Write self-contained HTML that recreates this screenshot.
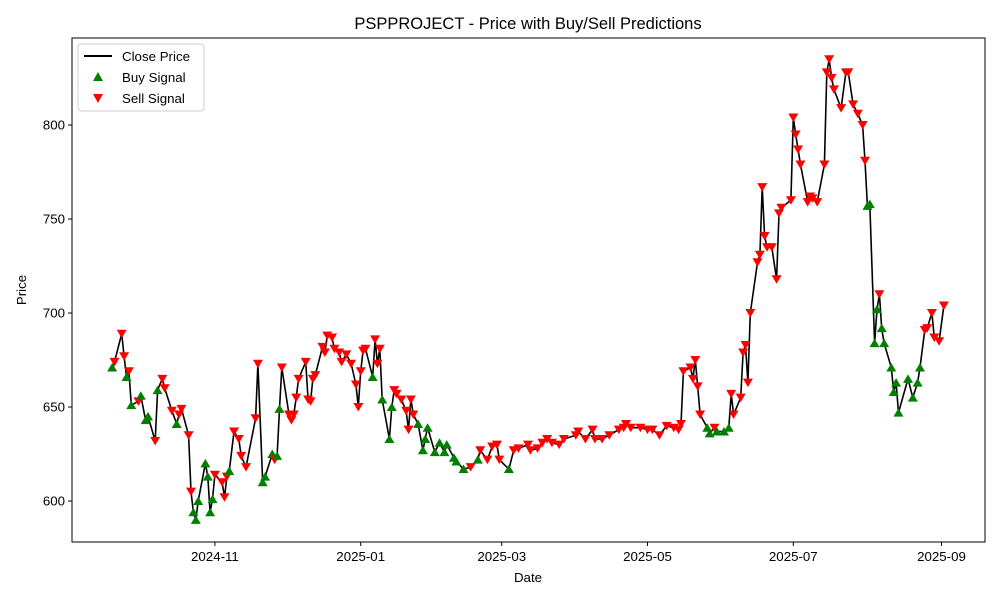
<!DOCTYPE html>
<html><head><meta charset="utf-8"><style>
html,body{margin:0;padding:0;background:#fff;}
svg{display:block;font-family:"Liberation Sans","DejaVu Sans",sans-serif;}
</style></head><body>
<svg id="chart" width="1000" height="600" viewBox="0 0 1000 600">
<rect width="1000" height="600" fill="#fff"/>
<text x="528" y="29" text-anchor="middle" font-size="16.5" fill="#000">PSPPROJECT - Price with Buy/Sell Predictions</text>
<g id="plot"></g>
<rect x="72" y="38" width="913" height="504" fill="none" stroke="#000" stroke-width="1"/>
<text x="528" y="582" text-anchor="middle" font-size="13.3">Date</text>
<text x="0" y="0" transform="translate(26,290) rotate(-90)" text-anchor="middle" font-size="13.3">Price</text>
<g>
<rect x="78" y="44" width="126" height="67" rx="3" fill="#fff" fill-opacity="0.8" stroke="#ccc"/>
<line x1="84" y1="56" x2="112" y2="56" stroke="#000" stroke-width="2"/>
<text x="122" y="61" font-size="13.3">Close Price</text>
<path d="M98,72 L103,81 L93,81 Z" fill="green"/>
<text x="122" y="82" font-size="13.3">Buy Signal</text>
<path d="M93,94 L103,94 L98,103 Z" fill="red"/>
<text x="122" y="103" font-size="13.3">Sell Signal</text>
</g>
</svg>
<script>
// days since 2024-11-01
const dayOffsets=[-43,-42,-39,-38,-37,-36,-35,-32,-31,-29,-28,-25,-24,-22,-21,-18,-16,-15,-14,-11,-10,-9,-8,-7,-4,-3,-2,-1,0,3,4,5,6,8,10,11,13,17,18,20,21,24,25,26,27,28,31,32,33,34,35,38,39,40,41,42,45,46,47,49,50,52,53,55,57,59,60,61,62,63,66,67,68,69,70,73,74,75,76,78,80,81,82,83,85,87,88,89,92,94,96,97,100,101,104,107,110,111,114,116,118,119,123,125,127,131,132,135,137,139,141,144,146,151,152,155,158,159,162,165,169,171,172,174,178,181,183,186,189,192,194,195,196,199,200,201,202,203,206,207,209,210,213,215,216,217,220,221,222,223,224,227,228,229,230,231,233,235,236,237,241,242,243,244,245,248,249,250,252,255,256,257,258,259,262,264,265,267,269,271,272,273,274,276,277,278,279,280,283,284,285,286,290,292,294,295,297,298,300,301,303,305];
const closePrices=[671,674,689,677,666,669,651,653,656,643,645,632,659,665,660,648,641,646,649,635,605,594,590,600,620,613,594,601,614,610,602,613,616,637,633,624,618,644,673,610,613,625,622,624,649,671,646,643,646,655,665,674,654,653,665,667,682,679,688,687,681,679,674,678,673,662,650,669,680,681,666,686,673,681,654,633,650,659,657,654,648,638,654,646,641,627,633,639,626,631,626,630,623,621,617,618,622,627,622,629,630,622,617,627,628,630,627,628,631,633,631,630,633,635,637,633,638,633,633,635,638,639,641,639,639,638,638,635,640,639,638,641,669,671,665,675,661,646,639,636,639,637,637,639,657,646,655,679,683,663,700,727,731,767,741,735,735,718,753,756,760,804,795,787,779,759,762,761,759,779,828,835,825,819,809,828,828,811,806,800,781,757,758,684,702,710,692,684,671,658,663,647,665,655,663,671,691,692,700,687,685,704];
const signals=("BSSSBSBSBBBS"+"BSSSBSSSSBBB"+"BBBBSSSSB"+"SSSSSS"+"BBBSBBS"+
"SSSSSSSSSSSSSSSSSSSSSSSS"+"BSSSBBB"+"SSSSSSS"+"BBBBBBBBBBB"+"SB"+"SSSSS"+"B"+
"SSSSSSSSSSSSSSSSSSSSSSSSSSSSSSSSSSS"+"BBSBBB"+
"SSSSSSSSSSSSSSSSSSSSSSSSSSSSSSSSSSSSS"+"BBBBSBBBBBBBBBB"+"SSSSSS").split("");
const yTicks=[600,650,700,750,800];
const xTickDays=[0,61,120,181,242,304];
const xTickLabels=["2024-11","2025-01","2025-03","2025-05","2025-07","2025-09"];

const NS="http://www.w3.org/2000/svg";
const X0=72,X1=985,Y0=38,Y1=542;
const dMin=-59.8,dMax=322.2,vMin=578.2,vMax=846.3;
function xs(d){return X0+(d-dMin)/(dMax-dMin)*(X1-X0);}
function ys(v){return Y1-(v-vMin)/(vMax-vMin)*(Y1-Y0);}
const g=document.getElementById('plot');
function mk(t,a){const e=document.createElementNS(NS,t);for(const k in a)e.setAttribute(k,a[k]);g.appendChild(e);return e;}

yTicks.forEach(v=>{
  const y=ys(v);
  const t=mk('line',{x1:X0-4,x2:X0,y1:y,y2:y,stroke:'#000'});
  
  
  const l=mk('text',{x:X0-7,y:y+4.5,'text-anchor':'end','font-size':'13.3'});
  l.textContent=v;
  
  
});
xTickDays.forEach((d,i)=>{
  const x=xs(d);
  const t=mk('line',{x1:x,x2:x,y1:Y1,y2:Y1+4,stroke:'#000'});
  
  
  const l=mk('text',{x:x,y:Y1+19,'text-anchor':'middle','font-size':'13.3'});
  l.textContent=xTickLabels[i];
  
  
});
const n=Math.min(dayOffsets.length,closePrices.length);
let pts=[];
for(let i=0;i<n;i++)pts.push(xs(dayOffsets[i]).toFixed(1)+','+ys(closePrices[i]).toFixed(1));
const line=mk('polyline',{points:pts.join(' '),fill:'none',stroke:'#000','stroke-width':'1.6','stroke-linejoin':'round'});


for(let i=0;i<n;i++){
  const x=xs(dayOffsets[i]),y=ys(closePrices[i]);
  const s=signals[i]||'S';
  let m;
  if(s==='B'){
    m=mk('path',{d:`M${x},${y-4.5} L${x+5},${y+4} L${x-5},${y+4} Z`,fill:'green'});
    
  }else{
    m=mk('path',{d:`M${x-5},${y-4} L${x+5},${y-4} L${x},${y+4.5} Z`,fill:'red'});
    
  }
  
}
</script>
</body></html>
